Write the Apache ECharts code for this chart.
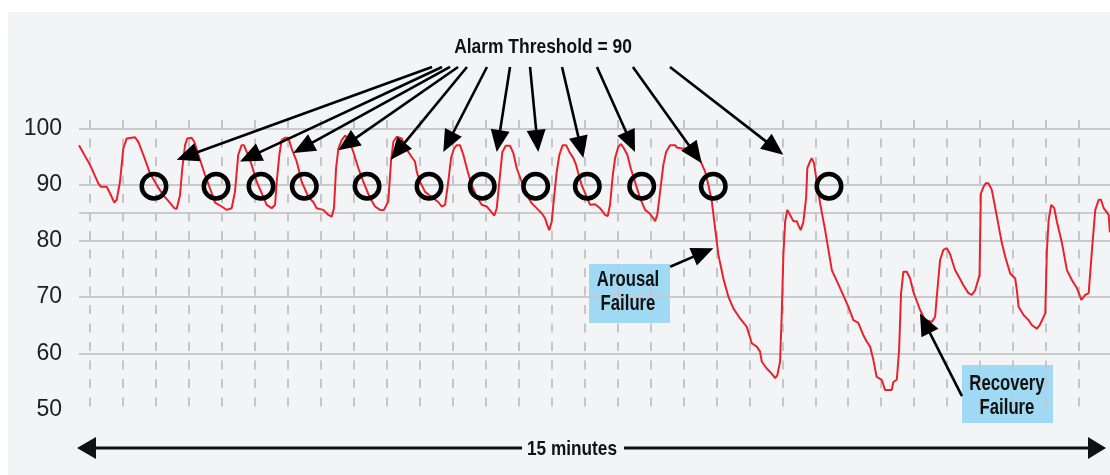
<!DOCTYPE html>
<html>
<head>
<meta charset="utf-8">
<script src="https://cdn.jsdelivr.net/npm/echarts@6/dist/echarts.min.js"></script>
<style>
  html, body { margin: 0; padding: 0; background: #ffffff; }
  #chart { width: 1110px; height: 475px; }
</style>
</head>
<body>
<div id="chart"></div>
<script>
// ---------- DATA ----------
// time in seconds (0 = first vertical grid line), SpO2 in %
const times = [
  -10.0, 0, 7.6, 10.0, 15.2, 19.1, 22.1, 24.3, 27.3, 30.3, 33.4, 34.9, 41.0, 44.0, 48.5, 54.6, 60.7, 66.7, 71.3, 76.7,
  78.9, 81.9, 84.0, 86.5, 88.5, 92.5, 94.9, 100.1, 104.7, 109.2, 113.8, 119.8, 124.4, 128.9, 130.4, 131.9, 134.9, 138.0, 140.1, 142.6,
  147.1, 151.7, 157.7, 160.8, 165.3, 168.4, 169.9, 172.3, 174.4, 177.5, 180.5, 183.5, 188.1, 192.6, 198.7, 203.2, 206.3, 212.3, 216.9, 219.9,
  222.0, 223.9, 226.0, 229.0, 232.1, 235.1, 239.6, 244.2, 248.7, 254.8, 259.4, 263.9, 267.5, 271.4, 273.9, 276.0, 279.1, 283.6, 286.7, 292.7,
  295.7, 297.3, 300.3, 304.9, 310.9, 316.9, 320.0, 323.1, 326.0, 328.5, 331.2, 333.7, 336.7, 339.7, 343.7, 347.3, 351.9, 356.4, 361.0, 364.9,
  367.9, 370.1, 373.1, 375.2, 378.3, 382.2, 385.2, 388.3, 392.8, 397.4, 401.9, 407.9, 411.0, 414.1, 416.1, 417.9, 420.1, 422.2, 424.7, 427.1,
  430.1, 433.2, 436.2, 439.8, 442.3, 444.3, 447.4, 452.0, 455.0, 459.6, 464.1, 468.7, 471.1, 473.2, 475.7, 477.8, 480.7, 483.2, 485.9, 488.9,
  492.0, 495.9, 500.5, 505.1, 509.0, 512.6, 514.2, 516.2, 518.7, 521.7, 524.2, 527.8, 532.4, 533.9, 538.4, 543.0, 548.9, 555.0, 559.7, 562.7,
  565.8, 568.8, 571.8, 576.3, 580.8, 585.4, 591.5, 597.6, 600.0, 602.1, 606.7, 609.7, 611.3, 615.8, 620.3, 623.4, 625.4, 627.9, 629.4, 630.9,
  632.5, 634.5, 637.0, 640.0, 643.1, 644.5, 646.7, 649.1, 651.6, 652.7, 655.2, 656.7, 658.8, 661.3, 664.3, 668.9, 675.0, 682.5, 690.0, 694.6,
  699.1, 703.7, 706.7, 709.8, 712.8, 715.8, 720.4, 723.4, 729.5, 731.0, 734.1, 736.2, 738.0, 740.1, 743.2, 746.2, 749.2, 755.3, 759.9, 766.0,
  769.0, 770.5, 773.5, 776.5, 779.6, 782.6, 787.1, 791.7, 794.7, 799.3, 802.3, 805.4, 809.4, 810.6, 813.0, 815.4, 817.6, 820.6, 825.2, 829.7,
  832.7, 837.3, 841.8, 843.4, 844.9, 849.5, 854.0, 857.1, 861.6, 864.1, 869.2, 870.7, 872.3, 874.6, 877.4, 879.8, 884.4, 888.9, 893.5, 898.0,
  902.0, 905.6, 908.7, 911.7, 914.7, 917.8, 919.9, 922.4, 926.9, 928.0
];
const spo2 = [
  97.0, 93.5, 90.2, 89.6, 89.6, 88.1, 86.8, 87.3, 90.5, 96.4, 98.2, 98.4, 98.4, 97.6, 95.3, 92.0, 89.9, 88.1, 87.1, 85.8,
  85.7, 88.1, 92.9, 97.0, 98.2, 98.3, 97.6, 94.4, 91.7, 89.3, 86.8, 86.1, 85.5, 85.8, 85.8, 88.7, 95.3, 97.0, 97.0, 95.8,
  93.5, 90.5, 87.8, 86.4, 85.8, 86.4, 90.5, 95.3, 97.9, 98.3, 98.3, 96.4, 94.1, 90.5, 87.8, 86.9, 85.8, 85.5, 84.6, 84.3,
  85.8, 92.9, 96.4, 97.9, 98.7, 98.2, 95.8, 92.9, 90.5, 87.6, 86.1, 85.5, 85.5, 87.0, 94.1, 97.6, 98.5, 98.2, 96.7, 94.9,
  94.1, 92.3, 90.5, 88.7, 87.8, 86.9, 86.1, 86.4, 90.5, 94.7, 96.4, 97.0, 97.0, 95.3, 92.3, 89.9, 87.8, 86.4, 86.1, 85.2,
  84.5, 85.8, 91.7, 95.8, 96.9, 96.9, 95.6, 92.9, 90.5, 88.1, 86.7, 85.5, 84.9, 84.0, 82.8, 81.9, 83.4, 87.6, 92.3, 95.3,
  97.0, 97.0, 95.8, 94.7, 93.5, 92.0, 89.9, 87.8, 86.4, 86.5, 85.8, 84.6, 84.4, 86.4, 91.7, 94.7, 96.7, 97.2, 96.4, 95.3,
  92.9, 90.5, 87.6, 85.5, 84.9, 84.0, 83.5, 84.6, 88.7, 93.5, 95.8, 97.0, 97.0, 96.6, 96.4, 96.4, 96.1, 94.4, 92.3, 89.9,
  87.0, 82.2, 77.5, 73.3, 70.1, 68.0, 66.2, 64.7, 63.2, 61.8, 61.2, 60.3, 58.5, 57.3, 56.4, 55.6, 56.1, 58.5, 66.8, 77.5,
  83.4, 85.5, 84.6, 83.5, 83.5, 82.8, 81.9, 83.4, 87.6, 92.9, 94.1, 94.7, 93.8, 90.5, 86.7, 81.9, 74.8, 71.6, 68.3, 65.9,
  65.4, 63.2, 62.1, 61.2, 58.8, 55.8, 55.3, 53.5, 53.5, 54.9, 55.3, 60.6, 70.7, 74.5, 74.5, 73.3, 70.9, 67.7, 65.9, 65.6,
  66.5, 70.1, 76.6, 78.4, 78.7, 77.6, 74.8, 73.2, 72.1, 70.7, 70.4, 71.2, 73.9, 88.4, 89.6, 90.3, 90.2, 89.0, 84.3, 79.6,
  77.2, 74.2, 73.3, 71.2, 68.3, 66.8, 65.9, 65.0, 64.4, 65.0, 67.1, 78.4, 83.7, 86.4, 85.8, 83.4, 79.6, 74.8, 73.0, 71.6,
  69.5, 70.4, 70.7, 78.4, 85.5, 87.3, 87.3, 85.8, 84.6, 81.5
];

// alarm crossings (circles)
const alarmTimes  = [58.2, 114.7, 155.6, 195.0, 252.1, 308.5, 356.9, 405.5, 452.5, 502.0, 567.1, 672.4];
const alarmLevels = [89.7, 89.7, 89.7, 89.7, 89.7, 89.7, 89.7, 89.7, 89.7, 89.7, 89.7, 89.7];

// annotation arrows: tail (time, value) -> tip (time, value)
const arrowTailT = [311.2, 320.3, 327.6, 334.9, 343.0, 361.2, 382.2, 400.4, 429.5, 461.3, 494.0, 527.7, 527.9, 793.4];
const arrowTailV = [110.9, 110.9, 110.9, 110.9, 110.9, 110.9, 110.9, 110.9, 110.9, 110.9, 110.9, 110.9, 75.4, 52.4];
const arrowTipT  = [78.9, 136.5, 185.0, 225.9, 273.6, 321.5, 370.1, 407.9, 448.9, 495.9, 556.6, 630.8, 567.2, 755.2];
const arrowTipV  = [94.4, 94.1, 95.6, 96.1, 94.4, 95.8, 95.8, 95.8, 94.7, 95.8, 93.8, 95.3, 78.7, 67.1];

// axis ticks
const yTickLabels = [50, 60, 70, 80, 90, 100];
const yGridLevels = [60, 70, 80, 85, 90, 100];
const yStep = 5;

const titleText = 'Alarm Threshold = 90';
const durationText = '15 minutes';
const arousalText = 'Arousal\nFailure';
const recoveryText = 'Recovery\nFailure';

// ---------- CHART ----------
const FONT = "'Liberation Sans', Arial, sans-serif";
const BG = '#f2f4f6';
const GRIDC = '#c8cacd';

const lineData = times.map((t, i) => [t, spo2[i]]);
const circleData = alarmTimes.map((t, i) => [t, alarmLevels[i]]);
const arrowData = arrowTailT.map((t, i) => [t, arrowTailV[i], arrowTipT[i], arrowTipV[i]]);

const yTicks = [];
for (let v = 50; v <= 100; v += yStep) yTicks.push(v);
const splitColors = yTicks.map(v => yGridLevels.includes(v) ? GRIDC : 'rgba(0,0,0,0)');

function narrowText(text, x, y, size, sx) {
  return { type: 'text', silent: true, x: x, y: y, scaleX: sx, z: 20,
    style: { text: text, x: 0, y: 0, font: `bold ${size}px ${FONT}`, fill: '#111111',
      align: 'center', verticalAlign: 'middle', lineHeight: Math.round(size * 1.1) } };
}

const chart = echarts.init(document.getElementById('chart'), null, { renderer: 'canvas' });

chart.setOption({
  backgroundColor: '#ffffff',
  animation: false,
  grid: [
    { left: 79, right: 0, top: 128.3, bottom: 65.4 },
    { left: 90, right: 31, top: 120, bottom: 67 }
  ],
  xAxis: [
    { gridIndex: 0, type: 'value', min: -10, max: 928.1, show: false },
    { gridIndex: 1, type: 'value', min: 0, max: 900, interval: 30,
      axisLine: { show: false }, axisTick: { show: false }, axisLabel: { show: false },
      splitLine: { show: true, lineStyle: { color: '#c4c6c9', width: 2, type: [9, 9.5] } } }
  ],
  yAxis: [
    { gridIndex: 0, type: 'value', min: 50, max: 100, interval: yStep,
      axisLine: { show: false }, axisTick: { show: false },
      axisLabel: { margin: 17, fontFamily: FONT, fontSize: 23, color: '#1e1e1e',
        formatter: v => yTickLabels.includes(v) ? String(v) : '' },
      splitLine: { show: true, lineStyle: { color: splitColors, width: 2 } } },
    { gridIndex: 1, type: 'value', min: 0, max: 1, show: false }
  ],
  graphic: [
    { type: 'rect', z: -10, silent: true, shape: { x: 8, y: 12, width: 1102, height: 463 }, style: { fill: BG } },
    narrowText(titleText, 543, 47, 21, 0.83),
    // duration arrow
    { type: 'line', silent: true, shape: { x1: 92, y1: 448, x2: 1092, y2: 448 }, style: { stroke: '#111', lineWidth: 3 } },
    { type: 'polygon', silent: true, shape: { points: [[77, 448], [96, 437], [96, 459]] }, style: { fill: '#111' } },
    { type: 'polygon', silent: true, shape: { points: [[1106, 448], [1088, 437], [1088, 459]] }, style: { fill: '#111' } },
    { type: 'rect', silent: true, z: 15, shape: { x: 522, y: 440, width: 102, height: 18 }, style: { fill: BG } },
    narrowText(durationText, 572, 449, 21, 0.82),
    // annotation boxes
    { type: 'rect', silent: true, shape: { x: 589, y: 264, width: 81, height: 59 }, style: { fill: '#9fd9f3' } },
    narrowText(arousalText, 628, 292, 22, 0.76),
    { type: 'rect', silent: true, shape: { x: 962, y: 365, width: 91, height: 58 }, style: { fill: '#9fd9f3' } },
    narrowText(recoveryText, 1007, 396, 22, 0.76)
  ],
  series: [
    { type: 'line', xAxisIndex: 0, yAxisIndex: 0, data: lineData, showSymbol: false, symbol: 'none',
      lineStyle: { color: '#e8222c', width: 2 }, z: 3, silent: true },
    { type: 'scatter', xAxisIndex: 0, yAxisIndex: 0, data: circleData, symbol: 'circle', symbolSize: 24.5,
      itemStyle: { color: 'rgba(0,0,0,0)', borderColor: '#000000', borderWidth: 4.5, opacity: 1 }, z: 4, silent: true },
    { type: 'custom', xAxisIndex: 0, yAxisIndex: 0, data: arrowData, z: 5, silent: true, clip: false,
      dimensions: ['t1', 'v1', 't2', 'v2'], encode: { x: [0, 2], y: [1, 3] },
      renderItem: function (params, api) {
        const p1 = api.coord([api.value(0), api.value(1)]);
        const p2 = api.coord([api.value(2), api.value(3)]);
        const dx = p2[0] - p1[0], dy = p2[1] - p1[1];
        const len = Math.sqrt(dx * dx + dy * dy);
        const ux = dx / len, uy = dy / len;
        const L = 22, W = 9.5;
        const bx = p2[0] - ux * L, by = p2[1] - uy * L;
        return { type: 'group', children: [
          { type: 'line', shape: { x1: p1[0], y1: p1[1], x2: bx + ux * 3, y2: by + uy * 3 },
            style: { stroke: '#000', lineWidth: 2.6 } },
          { type: 'polygon', shape: { points: [[p2[0], p2[1]], [bx - uy * W, by + ux * W], [bx + uy * W, by - ux * W]] },
            style: { fill: '#000' } }
        ] };
      } }
  ]
});
</script>
</body>
</html>
